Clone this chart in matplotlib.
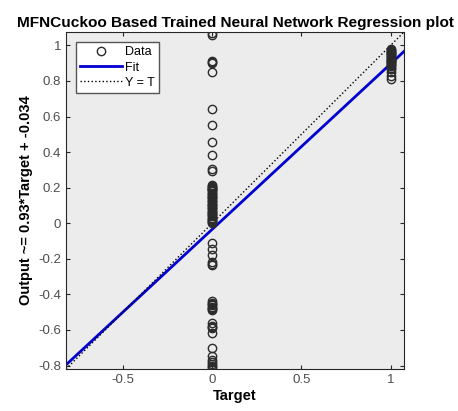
import matplotlib.pyplot as plt

plt.rcParams['font.family'] = ['Liberation Sans', 'DejaVu Sans']

# targets and network outputs
output_0 = [1.07, 1.06, 0.91, 0.905, 0.90, 0.85, 0.645, 0.555, 0.455, 0.385,
            0.305, 0.296, 0.215, 0.21, 0.205, 0.2, 0.195, 0.19, 0.185, 0.18,
            0.17, 0.165, 0.16, 0.15, 0.145, 0.14, 0.13, 0.125, 0.12, 0.11,
            0.105, 0.1, 0.09, 0.085, 0.08, 0.07, 0.065, 0.06, 0.05, 0.045,
            0.04, 0.03, 0.025, 0.02, 0.01, 0.005, 0.0, -0.11, -0.145, -0.18,
            -0.22, -0.23, -0.235, -0.44, -0.45, -0.455, -0.46, -0.47, -0.475, -0.48,
            -0.49, -0.56, -0.575, -0.585, -0.59, -0.615, -0.70, -0.745, -0.77, -0.78,
            -0.79, -0.80, -0.81, -0.82]
target_0 = [0] * len(output_0)
output_1 = [0.98, 0.975, 0.97, 0.965, 0.96, 0.955, 0.95, 0.945, 0.94, 0.935,
            0.93, 0.925, 0.92, 0.915, 0.91, 0.905, 0.90, 0.895, 0.89, 0.885,
            0.875, 0.865, 0.85, 0.83, 0.81]
target_1 = [1] * len(output_1)

slope = 0.93
offset = -0.034
lims = [-0.82, 1.075]

targets = target_0 + target_1
outputs = output_0 + output_1

fig = plt.figure(figsize=(4.58, 4.11), dpi=100)
ax = fig.add_axes([0.144, 0.102, 0.738, 0.820])
ax.set_facecolor('#ececec')

ax.plot(targets, outputs, 'o', mfc='none', mec='#2b2b2b', ms=6, mew=1.0,
        label='Data', zorder=3)
ax.plot(lims, [slope * v + offset for v in lims], color='#0000d0', lw=2,
        label='Fit', zorder=2)
ax.plot(lims, lims, ':', color='k', lw=1, label='Y = T', zorder=2)

ax.set_xlim(lims)
ax.set_ylim(lims)
ax.set_xticks([-0.5, 0, 0.5, 1])
ax.set_xticklabels(['-0.5', '0', '0.5', '1'])
ax.set_yticks([-0.8, -0.6, -0.4, -0.2, 0, 0.2, 0.4, 0.6, 0.8, 1])
ax.set_yticklabels(['-0.8', '-0.6', '-0.4', '-0.2', '0', '0.2', '0.4', '0.6', '0.8', '1'])
ax.tick_params(direction='in', top=True, right=True, length=3, width=0.8,
               labelsize=9.5, colors='#262626', labelcolor='#4d4d4d')
for s in ax.spines.values():
    s.set_color('#262626')
    s.set_linewidth(0.8)

ax.set_title('MFNCuckoo Based Trained Neural Network Regression plot',
             fontsize=11.1, fontweight='bold', pad=4)
ax.set_xlabel('Target', fontsize=10.5, fontweight='bold', labelpad=2)
ax.set_ylabel('Output ~= 0.93*Target + -0.034', fontsize=10.5,
              fontweight='bold', labelpad=4)

leg = ax.legend(loc='upper left', fontsize=9, frameon=True, fancybox=False,
                borderpad=0.35, labelspacing=0.25, handlelength=3.3,
                handletextpad=0.3, borderaxespad=0.8)
leg.get_frame().set_edgecolor('#555555')
leg.get_frame().set_facecolor('white')
leg.get_frame().set_alpha(1)

fig.savefig('out.png', dpi=100)
